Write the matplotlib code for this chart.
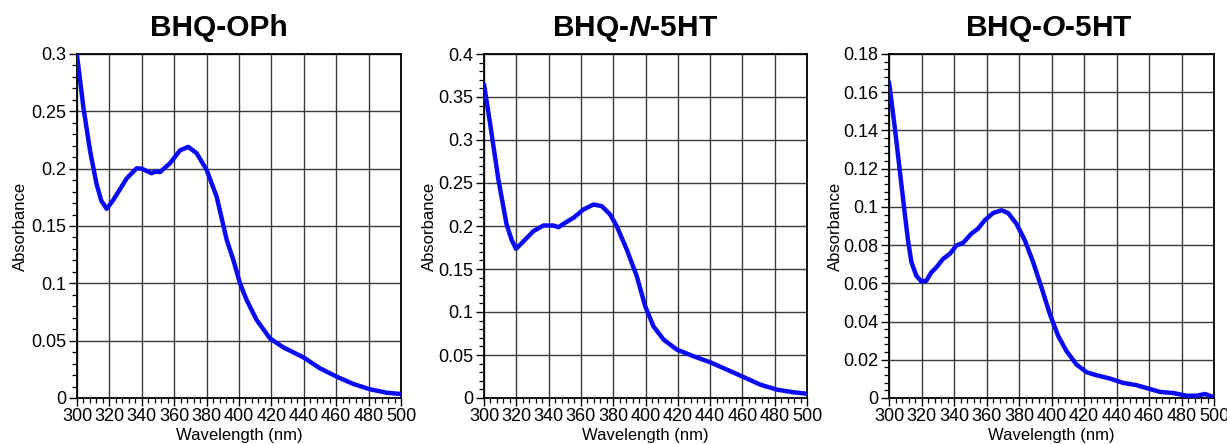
import matplotlib
matplotlib.use("Agg")
import matplotlib.pyplot as plt
from matplotlib.ticker import MultipleLocator, FuncFormatter

plt.rcParams['font.family'] = ['Liberation Sans', 'DejaVu Sans']
plt.rcParams['mathtext.fontset'] = 'custom'
plt.rcParams['mathtext.it'] = 'Liberation Sans:italic:bold'
plt.rcParams['mathtext.rm'] = 'Liberation Sans:bold'
plt.rcParams['mathtext.bf'] = 'Liberation Sans:bold'

titles = ["BHQ-OPh", r"BHQ-$\mathit{N}$-5HT", r"BHQ-$\mathit{O}$-5HT"]

wl_oph = [300, 303.9, 308, 312, 315, 318.3, 322.4, 326.5, 330.7, 336.8, 339.9, 343, 346, 348.5,
          351.2, 357.4, 363.6, 368.7, 373.9, 380, 386.2, 392.4, 396.5, 400.6, 404.7, 410.9,
          419.1, 427.3, 439.7, 450, 460.3, 470.6, 480.9, 491.2, 500]
abs_oph = [0.299, 0.254, 0.216, 0.187, 0.172, 0.165, 0.1727, 0.182, 0.1916, 0.2003, 0.200, 0.198,
           0.196, 0.1975, 0.197, 0.2047, 0.216, 0.219, 0.2134, 0.199, 0.1756, 0.138, 0.1204,
           0.100, 0.0855, 0.068, 0.052, 0.0442, 0.0355, 0.0259, 0.0186, 0.0122, 0.0076, 0.0046,
           0.0035]

wl_n5ht = [300, 303.7, 308.9, 314.0, 317.1, 319.8, 324.4, 330.6, 336.8, 343, 346.1, 350.2,
           355.4, 361.6, 367.8, 372.9, 378.1, 382.2, 388.4, 394.6, 399.8, 404.9, 411.2, 419.4,
           429.8, 440.1, 450.4, 460.7, 471.1, 481.4, 491.7, 500]
abs_n5ht = [0.3647, 0.320, 0.254, 0.2017, 0.184, 0.1734, 0.182, 0.194, 0.2006, 0.2006, 0.1986,
            0.2037, 0.2095, 0.2192, 0.225, 0.2231, 0.2134, 0.1998, 0.1726, 0.1416, 0.1067,
            0.0834, 0.0679, 0.0563, 0.0485, 0.0415, 0.033, 0.0244, 0.0155, 0.0097, 0.0066, 0.005]

wl_o5ht = [300, 303.5, 306.6, 309.7, 311.7, 313.8, 316.8, 319.9, 323, 326.1, 329.2, 333.3,
           337.4, 341.5, 345.6, 350.7, 354.8, 358.9, 364.1, 369.2, 373.3, 378.4, 383.6, 388.7,
           393.8, 399, 404.1, 409.2, 415.4, 421.6, 427.7, 435.9, 444.1, 452.4, 460.6, 466.7,
           474.9, 483.2, 489.3, 494.5, 500]
abs_o5ht = [0.1653, 0.142, 0.1193, 0.0965, 0.0825, 0.0711, 0.064, 0.061, 0.0614, 0.0658, 0.0684,
            0.0728, 0.0754, 0.0798, 0.0812, 0.086, 0.0886, 0.093, 0.0968, 0.0982, 0.0968, 0.0912,
            0.0825, 0.0711, 0.0579, 0.0439, 0.0325, 0.0246, 0.0175, 0.0135, 0.0119, 0.0102,
            0.0079, 0.0067, 0.0047, 0.0032, 0.0026, 0.0012, 0.0012, 0.0021, 0.0004]

series = [(wl_oph, abs_oph), (wl_n5ht, abs_n5ht), (wl_o5ht, abs_o5ht)]
ylims = [(0, 0.3), (0, 0.4), (0, 0.18)]
ymajor = [0.05, 0.05, 0.02]
yminor = [0.01, 0.01, 0.004]
xticks = list(range(300, 501, 20))

W, H = 1227, 444
fig = plt.figure(figsize=(W / 100, H / 100), dpi=100)

axes_px = [(77, 324), (484, 323), (889, 325)]
title_x = [219, 635, 1049]
ylabel_x = [28, 437, 843]
top_px, bot_px = 54, 398

fmt = FuncFormatter(lambda v, p: "%g" % round(v, 4))

for i, ((x, y), (lp, wp)) in enumerate(zip(series, axes_px)):
    ax = fig.add_axes([lp / W, 1 - bot_px / H, wp / W, (bot_px - top_px) / H])
    ax.plot(x, y, color='#0a0af5', lw=3.2, solid_capstyle='round', solid_joinstyle='round',
            zorder=3)
    ax.set_xlim(300, 500)
    ax.set_ylim(*ylims[i])
    ax.set_xticks(xticks)
    ax.xaxis.set_minor_locator(MultipleLocator(4))
    ax.yaxis.set_major_locator(MultipleLocator(ymajor[i]))
    ax.yaxis.set_minor_locator(MultipleLocator(yminor[i]))
    ax.yaxis.set_major_formatter(fmt)
    ax.grid(True, which='major', color='#3a3a3a', lw=1.0)
    ax.tick_params(which='major', direction='out', length=6, width=1.0, labelsize=13,
                   pad=1.5)
    ax.tick_params(which='minor', direction='out', length=3.5, width=0.9)
    for s in ax.spines.values():
        s.set_linewidth(1.3)
    ax.set_xlabel("Wavelength (nm)", fontsize=12, labelpad=2)
    ax.set_ylabel("Absorbance", fontsize=12)
    ax.yaxis.set_label_coords((ylabel_x[i] - lp) / wp, 0.5)
    fig.text(title_x[i] / W, 1 - 36 / H, titles[i], ha='center', va='baseline',
             fontsize=21.5, fontweight='bold')

fig.savefig("out.png", dpi=100)
